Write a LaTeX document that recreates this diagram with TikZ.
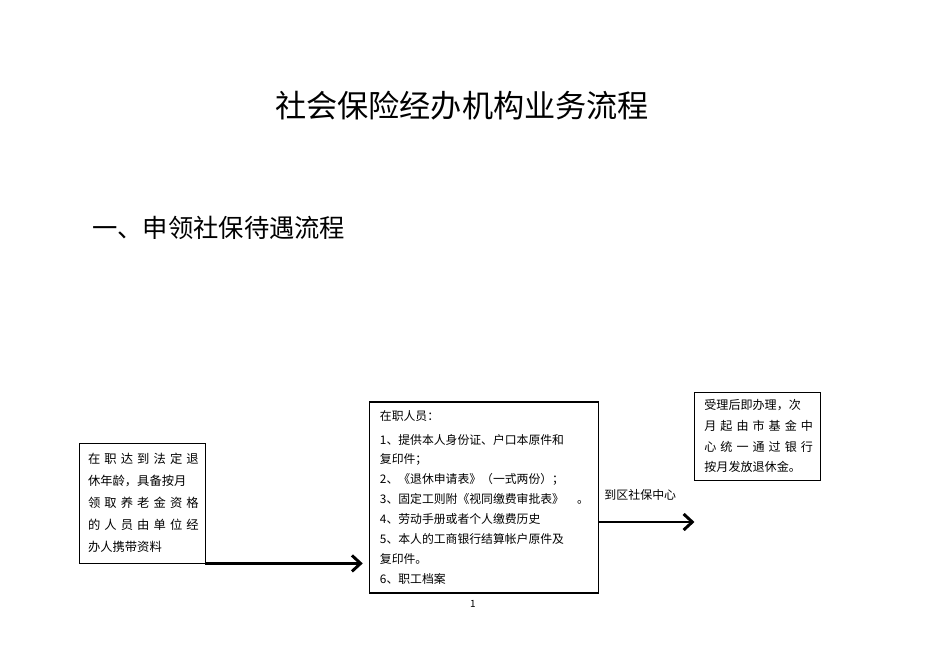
\documentclass[tikz,border=0pt]{standalone}
\usepackage{fontspec}
\setmainfont{Noto Sans CJK SC}
\usepackage{tikz}
\usetikzlibrary{arrows.meta, positioning}
\tikzstyle{request} = [rectangle, draw=black, line width=0.7pt, minimum width=3.78cm, minimum height=3.6cm, text width=3.24cm, inner xsep=0.27cm, align=left, font=\fontsize{10.5}{18.7}\selectfont]
\tikzstyle{docs} = [rectangle, draw=black, line width=0.9pt, minimum width=6.87cm, minimum height=5.73cm, text width=6.27cm, inner xsep=0.3cm, align=left, font=\fontsize{10.1}{17}\selectfont]
\tikzstyle{payout} = [rectangle, draw=black, line width=0.7pt, minimum width=3.78cm, minimum height=2.64cm, text width=3.21cm, inner xsep=0.285cm, align=left, font=\fontsize{10.3}{17.8}\selectfont]
\tikzstyle{arrow} = [line width=2.5pt, ->, >={Straight Barb[length=2.6mm, width=4.8mm]}]
\newcommand{\spread}[2]{\makebox[#1][s]{#2}}

\begin{document}
\begin{tikzpicture}
\useasboundingbox (0,0) rectangle (28.5,-20.16);
\node (title) at (13.86,-3.18) {\fontsize{26.6}{30}\selectfont 社会保险经办机构业务流程};
\node (heading) [anchor=west, inner sep=0] at (2.76,-6.84) {\fontsize{21.6}{26}\selectfont 一、申领社保待遇流程};

\node (request) [request] at (4.26,-15.09) {\spread{3.24cm}{在 职 达 到 法 定 退}\\
休年龄，具备按月\\
\spread{3.24cm}{领 取 养 老 金 资 格}\\
\spread{3.24cm}{的 人 员 由 单 位 经}\\
办人携带资料};
\node (docs) [docs, right=4.92cm of request, yshift=0.165cm] {在职人员：\\[3pt]
1、提供本人身份证、户口本原件和\\
复印件；\\
2、《退休申请表》（一式两份）；\\
3、固定工则附《视同缴费审批表》\hfill 。\hspace*{-0.4em}\\
4、劳动手册或者个人缴费历史\\
5、本人的工商银行结算帐户原件及\\
复印件。\\
6、职工档案};
\node (payout) [payout, right=2.85cm of docs, yshift=1.845cm] {受理后即办理，次\\
\spread{3.21cm}{月 起 由 市 基 金 中}\\
\spread{3.21cm}{心 统 一 通 过 银 行}\\
按月发放退休金。};
\node (pageno) at (14.19,-18.12) {\fontsize{8.5}{10}\selectfont 1};

\draw [arrow, shorten >=0.2cm] (request.south east) -- (request.south east -| docs.west);
\draw [arrow] ([yshift=-0.735cm]docs.east) -- ([yshift=-0.735cm]docs.east -| payout.west)
  node [pos=0.43, above=0.5cm, font=\fontsize{10.2}{12}\selectfont] {到区社保中心};
\end{tikzpicture}
\end{document}
